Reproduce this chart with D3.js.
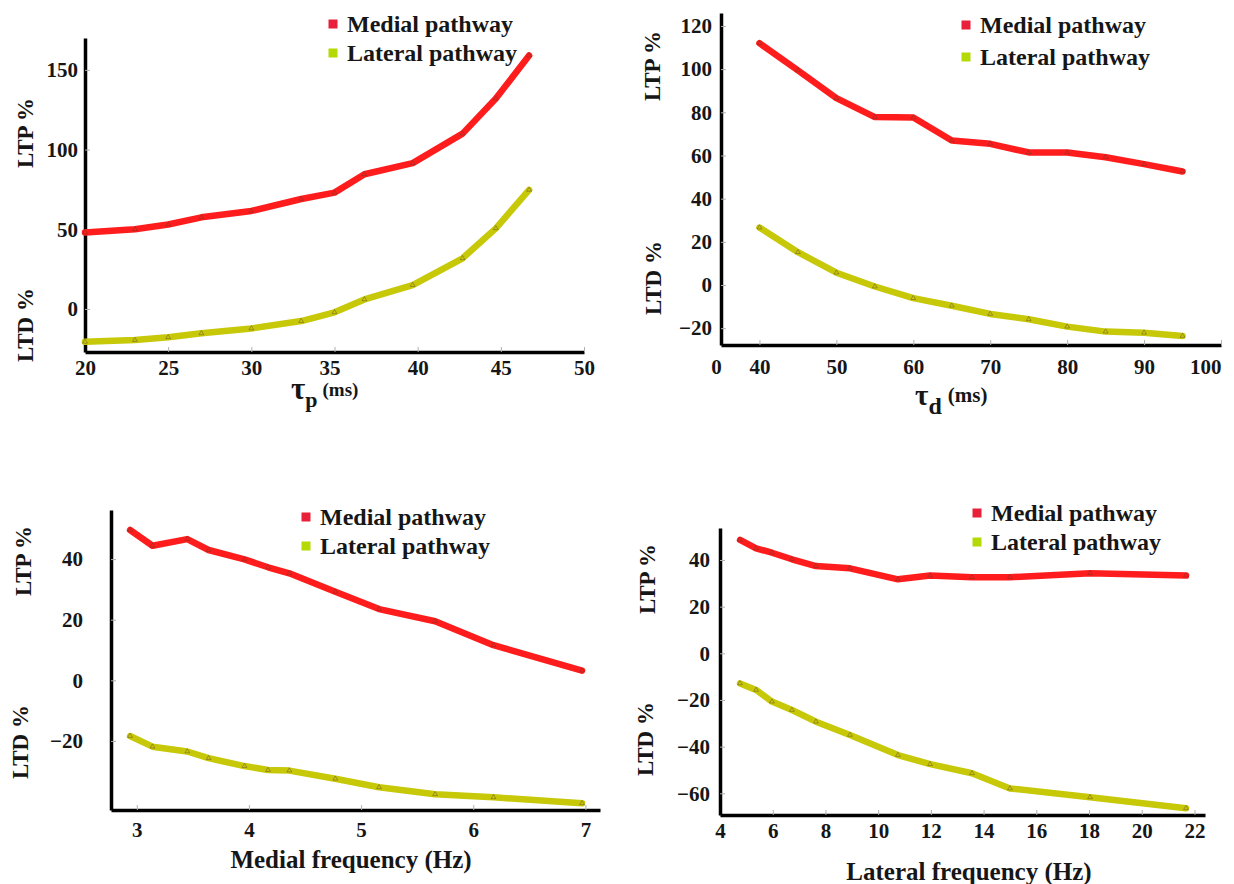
<!DOCTYPE html>
<meta charset="utf-8">
<style>
body { margin:0; background:white; }
svg { display:block; }
text { font-family:"Liberation Serif","Times New Roman",serif; font-weight:bold; fill:#161616; }
.axis path { stroke:#000; stroke-width:3.5px; fill:none; }
.axis line { stroke:#b0b0b0; stroke-width:1px; }
.axis text { font-size:21px; fill:#161616; }
.line { fill:none; stroke-width:6.5px; stroke-linejoin:round; stroke-linecap:round; }
</style>
<body>
<svg width="1234" height="884"></svg>
<script src="https://d3js.org/d3.v7.min.js"></script>
<script>

// panel A : tau p
var tauP     = [20, 23, 25, 27, 30, 33, 35, 36.8, 39.7, 42.7, 44.7, 46.7];
var medialP  = [48, 50, 53, 57.5, 61.5, 69, 73, 84.5, 91.5, 110, 132, 159];
var lateralP = [-20.6, -19.5, -17.8, -15.3, -12.2, -7.6, -2.1, 6, 15, 31.8, 50.6, 74.7];
var xTicksP  = [20, 25, 30, 35, 40, 45, 50];
var yTicksP  = [0, 50, 100, 150];

// panel B : tau d
var tauD     = [40, 45, 50, 55, 60, 65, 70, 75, 80, 85, 90, 95];
var medialD  = [112, 99.4, 86.6, 77.8, 77.6, 66.9, 65.4, 61.4, 61.4, 59.2, 56, 52.6];
var lateralD = [26.6, 15.2, 5.7, -0.7, -6.1, -9.6, -13.4, -15.9, -19.3, -21.6, -22.1, -23.6];
var xTicksD  = [35, 40, 50, 60, 70, 80, 90, 100];
var yTicksD  = [-20, 0, 20, 40, 60, 80, 100, 120];

// panel C : medial frequency
var freqM    = [2.94, 3.14, 3.45, 3.64, 3.96, 4.17, 4.36, 4.77, 5.16, 5.66, 6.18, 6.97];
var medialM  = [49.6, 44.4, 46.6, 43, 39.9, 37.3, 35.3, 29.2, 23.5, 19.5, 11.6, 3.2];
var lateralM = [-18.4, -21.9, -23.5, -25.7, -28.3, -29.6, -29.8, -32.5, -35.3, -37.6, -38.6, -40.6];
var xTicksM  = [3, 4, 5, 6, 7];
var yTicksM  = [-20, 0, 20, 40];

// panel D : lateral frequency
var freqL    = [4.76, 5.37, 5.97, 6.73, 7.64, 8.93, 10.75, 11.97, 13.56, 15.0, 18.04, 21.68];
var medialL  = [48.6, 45, 43.1, 40.3, 37.4, 36.4, 31.7, 33.3, 32.6, 32.6, 34.3, 33.3];
var lateralL = [-12.9, -15.7, -20.7, -24.3, -29.3, -35, -43.6, -47.5, -51.4, -57.9, -61.7, -66.4];
var xTicksL  = [4, 6, 8, 10, 12, 14, 16, 18, 20, 22];
var yTicksL  = [-60, -40, -20, 0, 20, 40];

var seriesNames = ["Medial pathway", "Lateral pathway"];
var lineColors  = ["#ff1c1c", "#c6c808"];
var keyColors   = ["#e8203a", "#b4da06"];

var svg = d3.select("svg");

var panels = [
  {x:tauP, m:medialP, l:lateralP, xt:xTicksP, yt:yTicksP,
   xd:[20,50], xr:[85,584], yd:[-27,170], yr:[352,38], ypad:7, xpad:8,
   fmt:function(d){ return d; },
   ltp:[25,133], ltd:[25,325], leg:[333,24,29]},
  {x:tauD, m:medialD, l:lateralD, xt:xTicksD, yt:yTicksD,
   xd:[35,100], xr:[721,1221], yd:[-27.8,126], yr:[345,13], ypad:9, xpad:14,
   fmt:function(d){ return d == 35 ? "0" : d; },
   ltp:[652,66], ltd:[653,278], leg:[966,25,32]},
  {x:freqM, m:medialM, l:lateralM, xt:xTicksM, yt:yTicksM,
   xd:[2.77,7.13], xr:[111,600], yd:[-42.8,56.2], yr:[810,510], ypad:28, xpad:12,
   fmt:function(d){ return d; },
   ltp:[23,561], ltd:[20,742], leg:[306,517,29]},
  {x:freqL, m:medialL, l:lateralL, xt:xTicksL, yt:yTicksL,
   xd:[4,22.4], xr:[720,1205], yd:[-69.3,53.7], yr:[815,528], ypad:10, xpad:8,
   fmt:function(d){ return d; },
   ltp:[647,579], ltd:[645,739], leg:[977,513,29]}
];

panels.forEach(function(p) {
  var x = d3.scaleLinear().domain(p.xd).range(p.xr);
  var y = d3.scaleLinear().domain(p.yd).range(p.yr);
  var g = svg.append("g");

  var xa = g.append("g")
      .attr("class", "axis")
      .attr("transform", "translate(0," + p.yr[0] + ")")
      .call(d3.axisBottom(x).tickValues(p.xt).tickFormat(p.fmt)
            .tickSizeInner(-5).tickSizeOuter(0).tickPadding(p.xpad));

  // the broken-axis "0" sits a little left of the corner, "100" is pushed inside
  xa.selectAll(".tick text")
      .filter(function(d) { return d == 35; })
      .attr("dx", -5);
  xa.selectAll(".tick text")
      .filter(function(d) { return d == 100; })
      .attr("text-anchor", "end");

  g.append("g")
      .attr("class", "axis")
      .attr("transform", "translate(" + p.xr[0] + ",0)")
      .call(d3.axisLeft(y).tickValues(p.yt)
            .tickSizeInner(-5).tickSizeOuter(0).tickPadding(p.ypad));

  g.selectAll(".axis text").attr("fill", "#161616");

  var line = d3.line()
      .x(function(d) { return x(d[0]); })
      .y(function(d) { return y(d[1]); });

  [p.m, p.l].forEach(function(vals, i) {
    var pts = p.x.map(function(v, k) { return [v, vals[k]]; });
    g.append("path")
        .datum(pts)
        .attr("class", "line")
        .attr("stroke", lineColors[i])
        .attr("d", line);
    g.selectAll(".mk" + i)
        .data(pts)
      .enter().append("path")
        .attr("class", "mk" + i)
        .attr("d", d3.symbol().type(d3.symbolTriangle).size(10))
        .attr("transform", function(d) { return "translate(" + x(d[0]) + "," + y(d[1]) + ")"; })
        .attr("fill", "none")
        .attr("stroke", "#5a3a2a")
        .attr("stroke-width", 0.7)
        .attr("opacity", 0.6);
  });

  // y titles
  [["LTP %", p.ltp], ["LTD %", p.ltd]].forEach(function(t) {
    g.append("text")
        .attr("transform", "translate(" + t[1][0] + "," + t[1][1] + ") rotate(-90)")
        .attr("text-anchor", "middle")
        .attr("dy", ".35em")
        .attr("font-size", "23px")
        .attr("fill", "#2a1c14")
        .text(t[0]);
  });

  // legend
  seriesNames.forEach(function(name, i) {
    var ly = p.leg[1] + i * p.leg[2];
    g.append("rect")
        .attr("x", p.leg[0] - 4.5).attr("y", ly - 4.5)
        .attr("width", 9).attr("height", 9)
        .attr("fill", keyColors[i]);
    g.append("text")
        .attr("x", p.leg[0] + 14)
        .attr("y", ly)
        .attr("dy", ".33em")
        .attr("font-size", "24px")
        .text(name);
  });
});

// x titles
var t1 = svg.append("text").attr("x", 291).attr("y", 399);
t1.append("tspan").attr("font-size", "31px").text("τ");
t1.append("tspan").attr("font-size", "22px").attr("dy", 8).text("p");
t1.append("tspan").attr("font-size", "19px").attr("dy", -11).attr("dx", 5).text("(ms)");

var t2 = svg.append("text").attr("x", 915).attr("y", 405);
t2.append("tspan").attr("font-size", "29px").text("τ");
t2.append("tspan").attr("font-size", "24px").attr("dy", 9).text("d");
t2.append("tspan").attr("font-size", "21px").attr("dy", -12).attr("dx", 6).text("(ms)");

svg.append("text")
    .attr("x", 351).attr("y", 868)
    .attr("text-anchor", "middle")
    .attr("font-size", "25px")
    .text("Medial frequency (Hz)");

svg.append("text")
    .attr("x", 969).attr("y", 880)
    .attr("text-anchor", "middle")
    .attr("font-size", "25px")
    .text("Lateral frequency (Hz)");

</script>
</body>
